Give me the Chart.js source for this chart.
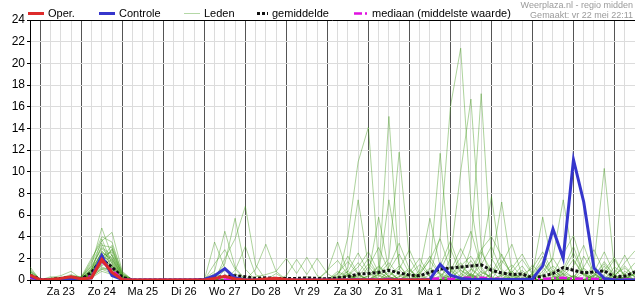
<!DOCTYPE html>
<html>
<head>
<meta charset="utf-8">
<script src="https://cdn.jsdelivr.net/npm/chart.js@4.4.0/dist/chart.umd.min.js"></script>
<style>
  html, body { margin: 0; padding: 0; background: #fff; }
</style>
</head>
<body>
<canvas id="chart" width="635" height="300"></canvas>
<script>
// hours after Za 23 00:00, one point every 6 hours
const hours = [-6,0,6,12,18,24,30,36,42,48,54,60,66,72,78,84,90,96,102,108,114,120,126,132,138,144,150,156,162,168,
  174,180,186,192,198,204,210,216,222,228,234,240,246,252,258,264,270,276,282,288,294,300,306,312,318,324,330,336,342,348];

// labels sit at noon of each day
const dayLabels = ['Za 23','Zo 24','Ma 25','Di 26','Wo 27','Do 28','Vr 29','Za 30','Zo 31','Ma 1','Di 2','Wo 3','Do 4','Vr 5'];

const credits = ['Weerplaza.nl - regio midden', 'Gemaakt: vr 22 mei 22:11'];

// operational run stops after 228h
const oper = [0.45,0.02,0.05,0.15,0.3,0.1,0.2,1.9,0.7,0.05, 0,0,0,0,0,0,0,
  0,0.15,0.35,0.1,0,0,0.1,0.15,0.05,0,0,0,0, 0,0,0,0,0,0,0,0,0,0,
  null,null,null,null,null,null,null,null,null,null,null,null,null,null,null,null,null,null,null,null];

const controle = [0.35,0,0,0.05,0.15,0.05,0.2,2.25,0.4,0.05, 0,0,0,0,0,0,0,
  0.05,0.4,1.05,0.2,0,0,0,0,0,0,0,0,0, 0,0,0,0,0,0,0,0,0,0.05,
  1.45,0.45,0.15,0.05,0.05,0.05,0.05,0.05,0.05,0.1, 1.3,4.7,2.0,11.1,7.2,1.1,0.15,0,0,0];

const gemiddelde = [0.45,0.05,0.05,0.15,0.25,0.1,0.7,1.9,1.2,0.25, 0,0,0,0,0,0,0,
  0.05,0.2,0.35,0.4,0.3,0.15,0.2,0.15,0.15,0.15,0.2,0.15,0.1, 0.2,0.3,0.55,0.6,0.7,0.9,0.65,0.45,0.4,0.7,
  1.0,1.1,1.2,1.3,1.4,0.9,0.65,0.5,0.55,0.2, 0.35,0.6,1.15,0.9,0.65,0.75,0.85,0.3,0.35,0.75];

const mediaan = [0.2,0,0,0.05,0.1,0.05,0.4,1.7,0.9,0.1, 0,0,0,0,0,0,0,
  0,0,0.05,0.05,0,0,0,0,0,0,0,0,0, 0,0,0.05,0.05,0.05,0.1,0.05,0,0,0.1,
  0.15,0.1,0.2,0.2,0.2,0.15,0.1,0.05,0.1,0, 0.1,0.15,0.2,0.1,0.15,0.1,0.1,0.05,0.05,0.1];

// ensemble members ("Leden")
const leden = [
  [1.2,0,0.1,0.2,0.3,0.2,1.4,4.8,2.2,0.3, 0,0,0,0,0,0,0, 0,3.5,1.1,0,0,0,0,0,0,0,0.3,0,0,
   0,4,10.9,14.1,1.4,0.3,0,0,0.6,1.8, 0.4,0,0,0.5,2.6,0.8,0,0,0,0.3, 1.2,0,0,0.4,0,0,0.9,2.1,0.3,0],
  [0.8,0.1,0,0.1,0.4,0.3,2.0,3.6,4.4,0.8, 0,0,0,0,0,0,0, 0.1,0.8,4.5,1.2,0,0,0,0,0,0,0,0,0,
   0.2,0,0.3,1.5,0.5,15.1,1.0,0,0,0, 0.8,2.9,0.6,0,0,0,1.5,3.3,0.4,0, 0,0.2,0,0,1.1,0.3,0,0,0.5,1.6],
  [0.5,0,0.2,0.4,0.8,0.1,1.0,3.2,3.0,0.5, 0,0,0,0,0,0,0, 0,0.3,1.5,5.7,1.0,0,0,0,0,0,0,0,0,
   0,0.6,0,0,0.8,2,11.8,2,0.4,0, 0,0,1.2,0.5,0,0.6,2.4,0.3,0,0, 0,0.9,0.3,0,0,0,0.4,0,0,0.2],
  [0.3,0,0,0.1,0.2,0.1,0.7,2.6,1.8,0.2, 0,0,0,0,0,0,0, 0,0,2.0,3.8,6.8,1.4,0,0,0,0,0,0,0,
   0,0,0.5,0,0,0,0.3,1.1,0,1, 11.7,1,0,0,0.8,0.2,0,0,0,0.6, 2.2,0.4,0,0,0,0,1.3,0.2,0,0],
  [0.1,0,0.3,0.2,0.5,0.2,1.8,4.0,3.5,0.6, 0,0,0,0,0,0,0, 0,0,0,0.6,0,1.0,3.3,0.8,0,0,0,0,0,
   0,0,0,0.4,1.2,0.3,0,0,0,0.5, 4,16,21.4,7,1,0,0,0.4,0,0, 0,0,0.8,2.5,0.6,0,0,0,0.3,0],
  [0.6,0,0,0,0.1,0.2,0.9,2.2,2.6,0.4, 0,0,0,0,0,0,0, 0,0,0,0,0,0.3,0.5,0.8,2.0,0.6,2.1,0.4,0,
   0.8,0.3,0,0,0,0.7,0,0,0,0, 0,2,10,16.7,3,0,0,0,0,1.4, 0.3,0,0,0,0,0.5,0,0,0,0.7],
  [0.2,0,0.1,0,0,0,0.5,1.6,1.2,0.1, 0,0,0,0,0,0,0, 0,0,0,0,0,0,0,0,0.4,1.9,0.5,2.0,0.6,
   0,0,0,0.3,0.9,0,0,0.5,0,0, 0,0,0,3,17.2,2,0.5,0,0,0, 0,0,0.6,1.9,0.5,0,0,0,0,0],
  [0,0,0,0.1,0.3,0.1,0.4,1.2,0.9,0, 0,0,0,0,0,0,0, 0,0,0,0,0,0,0,0,0,0,0,0,0,
   0,0,0.4,0,0,0.3,1.3,0.2,0,0, 0,0,0,0.6,0,0,0,0.2,0.9,0, 0,0,0,0,0,1.5,10.3,1,0,0],
  [0.4,0,0,0,0.1,0.3,1.2,2.9,2.0,0.2, 0,0,0,0,0,0,0, 0,0,0,0,0,0,0,0,0,0,0,0,0,
   0,0,0,0,0,0,0.6,0,0,0, 0,0.4,1.6,0.3,0,0,0,0,0,0, 0.5,2.1,7.4,1.8,0.4,0,0,0,0.8,0.3],
  [0.9,0.1,0,0,0.2,0,0.8,3.8,1.5,0.1, 0,0,0,0,0,0,0, 0,0,0,0,0,0,0,0,0,0,0,0,0,
   0,0,0,0,0.5,0,0,0,0,0, 0.3,0,0,0,2.1,7.7,1.0,0,0,0, 0,0,0,0.4,0,0,0,0.6,2.3,0.4],
  [0,0,0,0.1,0,0.1,0.6,2.0,3.2,0.7, 0,0,0,0,0,0,0, 0,0,0,0,0,0,0,0,0,0,0,0,0,
   0,0,0,0,0,0,0,0.7,2.0,0.3, 0,0,0,0,0,1.5,7.2,0.8,0,0, 0,0,0,0,0,0.3,1.7,0.4,0,0],
  [0.3,0,0,0,0,0,0.3,1.0,0.6,0, 0,0,0,0,0,0,0, 0,0,0,0,0,0,0,0,0,0,0,0,0,
   0,0,0,0,0,0,0,0,0,0, 0.4,1.2,0.3,0,0,0,0,0,0,0.5, 5.8,1.1,0,0,0,0,0,0,0.6,0],
  [0.7,0,0,0.2,0.1,0,1.1,2.4,1.4,0.2, 0,0,0,0,0,0,0, 0,0,0,0,0,0,0,0,0,0,0,0,0,
   0,0.4,1.6,0.5,5.8,0.9,0,0,0,0, 0,0,0.5,1.8,0.4,0,0,0,0.7,0, 0,0,0,0,2.2,0.6,0,0,0,0],
  [0,0,0,0,0,0.1,0.5,1.8,2.8,0.3, 0,0,0,0,0,0,0, 0,0,0,0,0,0,0,0,0,0,0,0,0,
   0.3,1.1,7.4,1.3,0,0,0,0,0,0, 0,0,0,0.4,0,0,0,0,0,0, 0,0,0,0,0,0,0.5,1.9,0.3,0],
  [0.5,0,0,0,0.2,0.2,1.6,3.4,1.0,0, 0,0,0,0,0,0,0, 0,0,0,0,0,0,0,0,0,0,0,0,0,
   0,0,0,0,0.6,7.4,1.5,0,0,0, 0,0,0,0,0,0,0,0.3,1.3,0, 0,0,0,0,0,0,0,0,0,0],
  [0.2,0,0,0,0,0,0.4,1.4,2.3,0.6, 0,0,0,0,0,0,0, 0,0,0,0,0,0,0,0,0,0,0,0,0,
   0,0,0,0,0,0,0,0,0.9,5.7, 1.2,0,0,0,0,0,0,0,0,0, 0,0,1.0,3.1,0.5,0,0,0,0,0],
  [1.0,0,0,0,0.1,0,0.6,2.7,1.7,0.1, 0,0,0,0,0,0,0, 0,0,0,0,0,0,0,0,0,0,0,0,0.8,
   3.5,0.6,0,0,0,0,0,0,0,0, 0,0,0,0,0,0,0,0,0,0.4, 1.6,0.3,0,0,0,0,0,0,0,0],
  [0.4,0,0.1,0,0.2,0,0.9,2.1,1.0,0, 0,0,0,0,0,0,0, 0,1.5,2.8,1.0,0,0,0,0,0,0,0,0,0,
   0,0,0,0,0.3,1.2,3.4,1.0,0,0, 0,0.6,2.1,4.5,1.2,0,0,0,0,0, 0,0,0.2,0,0,0.7,2.6,0.5,0,0],
  [0.1,0,0,0.1,0.1,0.1,0.7,1.3,1.9,0.3, 0,0,0,0,0,0,0, 0,0,0,0.9,3.1,0.5,0,0,0,0,0,0,0,
   0,0.8,2.5,0.7,0,0,0,0,0.5,1.9, 3.8,0.9,0,0,0,0,0.5,1.4,0.2,0, 0,0,0,0,0,0,0,0.3,1.6,2.7],
  [0.6,0,0,0.1,0.3,0.1,1.3,3.0,2.3,0.3, 0,0,0,0,0,0,0, 0,0,0,0,0,0,0,0,0,0,0,0,0,
   0,0,0,0,0,0,0,0,0,0, 0,0,0,0,0,0,0,1.1,2.4,0.6, 0,0,0,0,0,0,0,0,0,0],
  [0.2,0,0,0,0,0,0.4,1.1,0.8,0, 0,0,0,0,0,0,0, 0,0,0,0,0,0,0,0,0,0,0,0,0,
   0.5,2.2,0.6,0,0,0,0,0,0,0, 0,0,0,0,0,0,0,0,0,0, 0,0.6,2.4,4.1,1.0,0,0,0,0,0],
  [0,0,0,0,0,0,0.2,0.8,0.5,0, 0,0,0,0,0,0,0, 0,0,0,0,0,0,0,0,0,0,0,0,0,
   0,0,0,0,0,0,0,0,0,0, 0,0,0,0.9,2.8,4.0,2.2,0.5,0,0, 0,0,0,0,0,0,0,0,0,0],
  [0.3,0,0,0,0.1,0.1,0.8,1.6,0.7,0, 0,0,0,0,0,0,0, 0,0,0,0,0,0,0,0,0,0,0,0,0,
   0,0,0,1.2,3.0,0.8,0,0,0,0, 0,0,0,0,0,0,0,0,0,0, 0,0,0,0,0,0,0,0.4,1.3,0.2],
  [0.5,0,0,0,0,0,0.5,1.9,1.3,0.1, 0,0,0,0,0,0,0, 0,0,0,0,0,0,0,0,0,0,0,0,0,
   0.3,0.8,0.2,0,0.5,1.6,0.4,0,0.3,1.1, 0.6,0.2,0.9,0.4,0,0.5,1.8,0.6,0.2,0, 0.4,1.3,0.5,0,0.6,0.2,0,0.5,1.1,0.3],
  [0,0,0,0,0.1,0,0.3,1.0,1.1,0.2, 0,0,0,0,0,0,0, 0,0,0,0,0,0,0,0,0,0,0,0,0,
   0,0.4,1.2,2.6,0.7,0.2,0,0.5,1.4,0.3, 0,0.8,2.9,1.1,0.3,0,0,0.7,1.9,0.5, 0,0.3,0.9,0.2,0,0.4,1.5,0.4,0,0.6],
  [0.8,0,0,0,0.2,0.1,1.0,2.5,2.0,0.4, 0,0,0,0,0,0,0, 0,0.6,0,0,0,0,0,0,0,0,0,0,0,
   0.6,1.7,0.5,0,0,0.9,2.4,0.6,0,0, 1.3,3.6,0.9,0.2,0.5,1.2,0.3,0,0,0.6, 1.7,0.4,0,0.3,1.2,2.8,0.7,0,0.3,0.9],
  [0.2,0,0,0,0,0,0.3,1.5,2.9,0.5, 0,0,0,0,0,0,0, 0,0,0,0,0,0,0,0.6,0,0,0,0,0.9,
   1.8,0.5,0,0.4,1.3,0.3,0,0,0.7,2.2, 0.5,0,0.3,1.0,0.2,0,0.4,0.8,0,0, 0,0,0.4,1.3,3.2,0.6,0,0,0.2,0.5],
  [0.4,0,0,0.1,0.2,0,0.6,2.3,1.6,0.2, 0,0,0,0,0,0,0, 0,0,0.9,0,0,0,0,0,0,0,0,0,0,
   0,0,0.6,2.0,0.4,0,0.3,0.9,0.2,0, 0,0.4,1.3,2.2,0.7,0.3,0,0,0.5,1.1, 2.6,0.7,0,0,0,0.4,0.9,0.2,0,0],
  [0.1,0,0,0,0.1,0.2,0.5,1.7,1.1,0, 0,0,0,0,0,0,0, 0,0,0,0,0,0,0,0,0,0,0,0,0,
   0,0,0,0,0,0.4,1.0,2.8,0.6,0, 0,0,0,0.3,1.4,3.1,0.8,0,0,0, 0,0,0.6,0.3,0,0,0,1.2,0.5,0],
  [0.5,0,0,0,0.2,0.1,0.7,2.0,1.3,0.1, 0,0,0,0,0,0,0, 0,0,0,0,0,0,0,0,0,0,0,0,0,
   0.2,0.5,0,0,0,0,0,0,0,0, 0,0,0,0.5,0.2,0,0,0,0,0, 0.8,2.0,0.5,0,0,0,0,0,0,0]
];

const FONT = '"Liberation Sans", Arial, sans-serif';
const memberColor = 'rgba(60,150,20,0.42)';

function toXY(vals) {
    return vals.map((v, i) => ({ x: hours[i], y: v }));
}

function series(label, vals, color, width, dash, order) {
    return {
        label: label,
        data: toXY(vals),
        borderColor: color,
        backgroundColor: color,
        borderWidth: width,
        borderDash: dash,
        order: order,
        pointRadius: 0,
        fill: false,
        tension: 0
    };
}

// legend + top border + credits, drawn on top
const legendX = [28, 99, 184, 257, 354];
const legendW = [16, 16, 16, 11, 14];
const decor = {
    id: 'decor',
    afterDraw(chart) {
        const ctx = chart.ctx;
        const a = chart.chartArea;
        ctx.save();
        ctx.strokeStyle = '#000';
        ctx.lineWidth = 1;
        ctx.beginPath();
        ctx.moveTo(a.left, a.top + 0.5);
        ctx.lineTo(a.right, a.top + 0.5);
        ctx.stroke();

        ctx.font = '11px ' + FONT;
        ctx.textBaseline = 'middle';
        ctx.fillStyle = '#000';
        chart.data.datasets.filter(d => d.label).forEach((d, i) => {
            const x = legendX[i], w = legendW[i], y = 13.5;
            ctx.save();
            ctx.strokeStyle = d.label === 'Leden' ? '#b4d8a6' : d.borderColor;
            ctx.lineWidth = d.label === 'Leden' ? 1 : d.borderWidth;
            ctx.setLineDash(d.borderDash || []);
            ctx.beginPath();
            ctx.moveTo(x, y);
            ctx.lineTo(x + w, y);
            ctx.stroke();
            ctx.restore();
            ctx.fillText(d.label, x + w + 4, y);
        });

        ctx.font = '9px ' + FONT;
        ctx.fillStyle = '#9a9a9a';
        ctx.textAlign = 'right';
        ctx.textBaseline = 'alphabetic';
        credits.forEach((t, i) => ctx.fillText(t, 633, 7.5 + 10 * i));
        ctx.restore();
    }
};

const datasets = [
    series('Oper.', oper, '#dd2b2b', 3, [], 0),
    series('Controle', controle, '#3636cc', 3, [], 1),
    series('Leden', leden[0], memberColor, 1, [], 4),
    series('gemiddelde', gemiddelde, '#111', 3, [3, 2], 3),
    series('mediaan (middelste waarde)', mediaan, '#e010e0', 2.5, [8, 3, 2, 3], 2)
].concat(leden.slice(1).map(m => series('', m, memberColor, 1, [], 4)));

new Chart(document.getElementById('chart'), {
    type: 'line',
    data: { datasets: datasets },
    options: {
        responsive: false,
        animation: false,
        devicePixelRatio: 1,
        layout: { padding: { top: 20, left: 0, right: 0, bottom: 0 } },
        plugins: {
            legend: { display: false },
            tooltip: { enabled: false }
        },
        scales: {
            x: {
                type: 'linear',
                min: -6,
                max: 348,
                afterBuildTicks: s => { s.ticks = hours.map(h => ({ value: h })); },
                afterFit: s => { s.height = 20; },
                grid: {
                    color: c => (c.tick && c.tick.value % 24 === 0) ? '#555' : '#dcdcdc',
                    lineWidth: 1,
                    tickLength: 4,
                    tickColor: '#000'
                },
                border: { color: '#000' },
                ticks: {
                    autoSkip: false,
                    maxRotation: 0,
                    padding: 1,
                    color: '#000',
                    font: { family: FONT, size: 11 },
                    callback: v => (v % 24 === 12 ? dayLabels[(v - 12) / 24] : '')
                }
            },
            y: {
                min: 0,
                max: 24,
                afterFit: s => { s.width = 30; },
                grid: { color: '#dcdcdc', tickLength: 3, tickColor: '#000' },
                border: { color: '#000' },
                ticks: {
                    stepSize: 2,
                    padding: 2,
                    color: '#000',
                    font: { family: FONT, size: 12 }
                }
            }
        }
    },
    plugins: [decor]
});
</script>
</body>
</html>
